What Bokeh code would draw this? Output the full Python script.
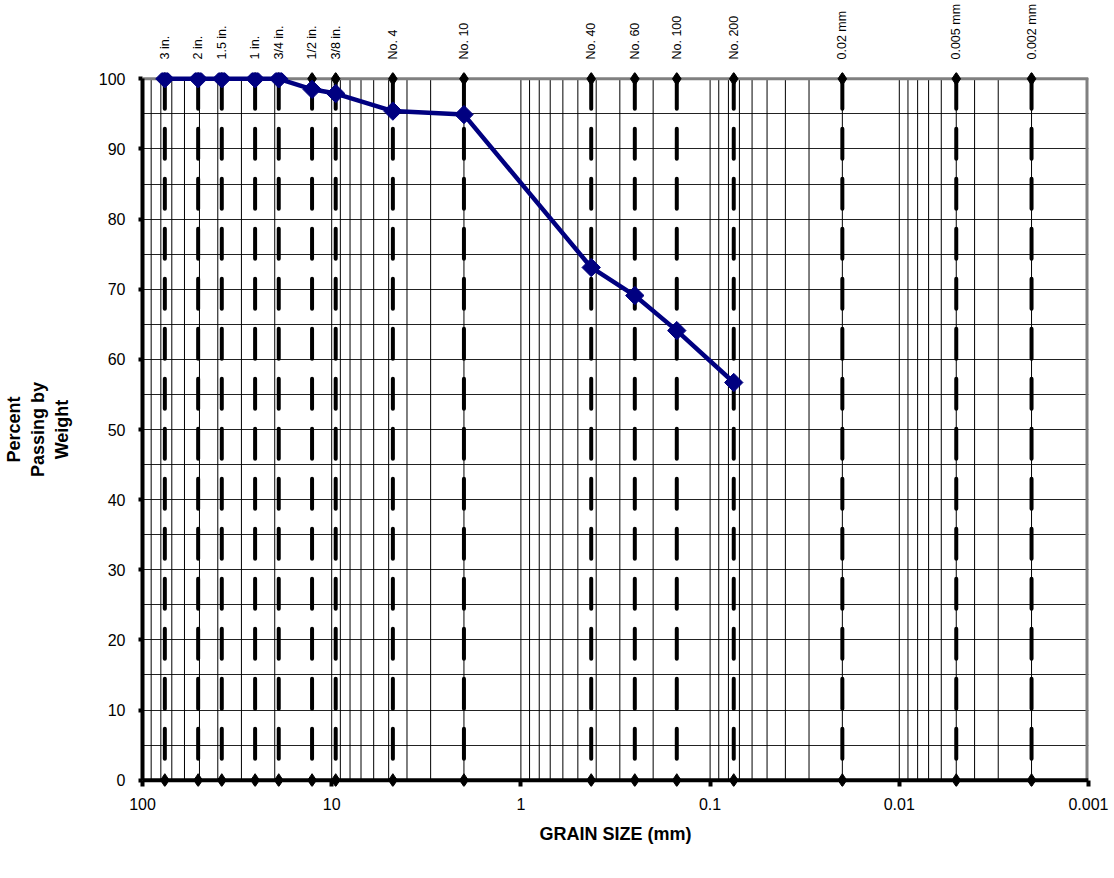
import math
from bokeh.plotting import figure
from bokeh.models import (Range1d, FixedTicker, Grid, LogAxis, CustomJSTickFormatter)
from bokeh.embed import file_html
from bokeh.resources import INLINE

# ---- data ----
sieve_labels = ["3 in.", "2 in.", "1.5 in.", "1 in.", "3/4 in.", "1/2 in.", "3/8 in.",
                "No. 4", "No. 10", "No. 40", "No. 60", "No. 100", "No. 200",
                "0.02 mm", "0.005 mm", "0.002 mm"]
sieve_sizes = [76.2, 50.8, 38.1, 25.4, 19.05, 12.7, 9.525,
               4.75, 2.0, 0.425, 0.25, 0.15, 0.075,
               0.02, 0.005, 0.002]
test_sizes = [76.2, 50.8, 38.1, 25.4, 19.05, 12.7, 9.525, 4.75, 2.0, 0.425, 0.25, 0.15, 0.075]
percent_passing = [100, 100, 100, 100, 100, 98.5, 97.9, 95.4, 94.9, 73.1, 69.1, 64.1, 56.7]
x_ticks = [100, 10, 1, 0.1, 0.01, 0.001]
y_ticks = list(range(0, 101, 10))
y_grid = list(range(0, 101, 5))

FONT = "Liberation Sans"

p = figure(width=1110, height=866, x_axis_type="log",
           x_range=Range1d(100, 0.001), y_range=Range1d(-0.9, 100.9),
           output_backend="svg", toolbar_location=None,
           min_border_left=141, min_border_right=22,
           min_border_top=72, min_border_bottom=80)
p.outline_line_color = None
p.xgrid.visible = False
p.ygrid.visible = False
p.background_fill_color = "white"
p.border_fill_color = "white"

# horizontal grid every 5 %
hg = Grid(dimension=1, ticker=FixedTicker(ticks=y_grid),
          grid_line_color="#222222", grid_line_width=1)
p.add_layout(hg)

# vertical log grid lines (1..9 per decade) between 0 and 100 %
gx = []
for e in range(-3, 2):
    for d in range(1, 10):
        v = d * 10.0 ** e
        if 0.001 < v <= 100:
            gx.append(v)
p.segment(x0=gx, y0=[0] * len(gx), x1=gx, y1=[100] * len(gx),
          line_color="black", line_width=1)

# top and right border (gray)
p.segment(x0=[100], y0=[100], x1=[0.001], y1=[100], line_color="#808080", line_width=3)
p.segment(x0=[0.001], y0=[0], x1=[0.001], y1=[100], line_color="#808080", line_width=6)
# zero line (x axis line)
p.segment(x0=[100], y0=[0], x1=[0.001], y1=[0], line_color="black", line_width=4)

# sieve dashed lines
n = len(sieve_sizes)
p.segment(x0=sieve_sizes, y0=[100] * n, x1=sieve_sizes, y1=[0] * n,
          line_color="black", line_width=4, line_dash="30 20", line_cap="round")
p.scatter(x=sieve_sizes, y=[100] * n, marker="diamond", size=13,
          fill_color="black", line_color="black")
p.scatter(x=sieve_sizes, y=[0] * n, marker="diamond", size=13,
          fill_color="black", line_color="black")

# grading curve
p.line(x=test_sizes, y=percent_passing, line_color="#000080", line_width=4.5)
p.scatter(x=test_sizes, y=percent_passing, marker="square", angle=math.pi / 4,
          size=13, fill_color="#000080", line_color="#000080")

# sieve labels above, as an axis on top
top = LogAxis(ticker=FixedTicker(ticks=sieve_sizes),
              formatter=CustomJSTickFormatter(
                  args=dict(sizes=sieve_sizes, labels=sieve_labels),
                  code="const i = sizes.indexOf(tick); return i >= 0 ? labels[i] : '';"))
top.axis_line_color = None
top.major_tick_line_color = None
top.minor_tick_line_color = None
top.major_tick_in = 0
top.major_tick_out = 0
top.major_label_standoff = 13
top.major_label_orientation = "vertical"
top.major_label_text_font = FONT
top.major_label_text_font_size = "12.5px"
top.major_label_text_color = "black"
p.add_layout(top, "above")

# axes
xa = p.below[0]
xa.ticker = FixedTicker(ticks=x_ticks)
xa.formatter = CustomJSTickFormatter(code="return tick.toString();")
xa.axis_line_color = None
xa.major_tick_in = 6
xa.major_tick_out = 0
xa.major_tick_line_width = 4
xa.minor_tick_line_color = None
xa.major_label_standoff = 11
xa.major_label_text_font = FONT
xa.major_label_text_font_size = "16px"
xa.major_label_text_color = "black"
xa.axis_label = "GRAIN SIZE (mm)"
xa.axis_label_text_font = FONT
xa.axis_label_text_font_style = "bold"
xa.axis_label_text_font_size = "18px"
xa.axis_label_standoff = 11
xa.axis_label_text_color = "black"

ya = p.left[0]
ya.ticker = FixedTicker(ticks=y_ticks)
ya.bounds = (0, 100)
ya.axis_line_width = 4
ya.axis_line_color = "black"
ya.major_tick_in = 0
ya.major_tick_out = 4
ya.major_tick_line_width = 4
ya.minor_tick_line_color = None
ya.major_label_standoff = 13
ya.major_label_text_font = FONT
ya.major_label_text_font_size = "16px"
ya.major_label_text_color = "black"
ya.axis_label = "Percent\nPassing by\nWeight"
ya.axis_label_text_font = FONT
ya.axis_label_text_font_style = "bold"
ya.axis_label_text_font_size = "18px"
ya.axis_label_standoff = 24
ya.axis_label_text_color = "black"
ya.axis_label_text_align = "center"

open("out.html", "w").write(file_html(p, INLINE))
